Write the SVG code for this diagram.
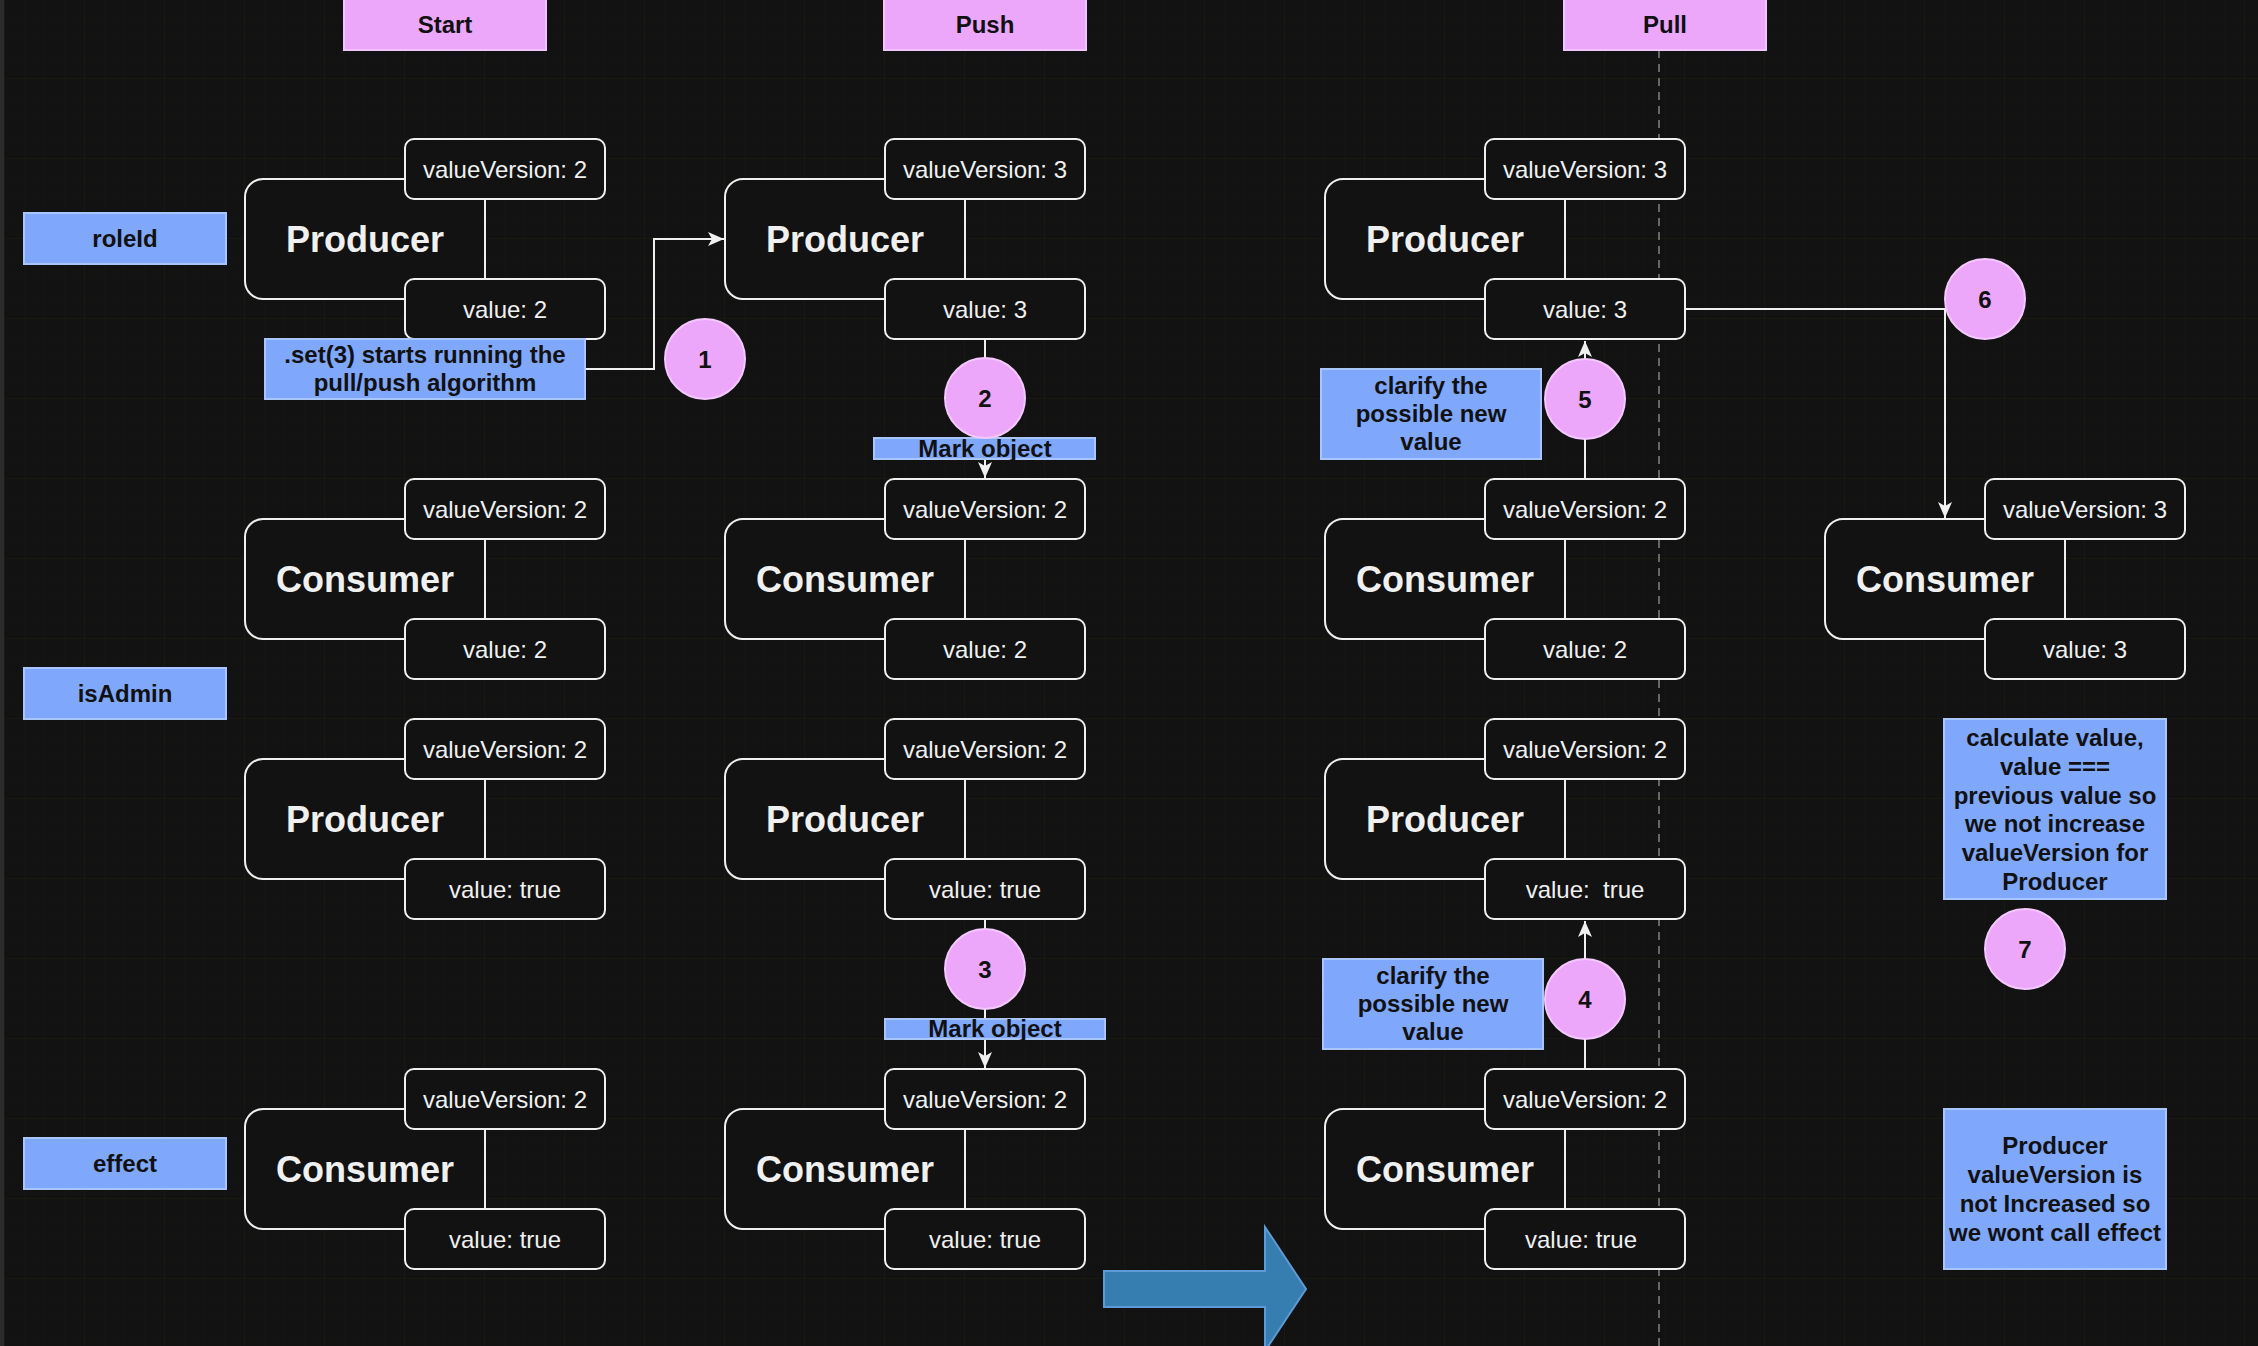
<svg xmlns="http://www.w3.org/2000/svg" width="2258" height="1346" viewBox="0 0 2258 1346">
<defs>
<pattern id="gridMinor" patternUnits="userSpaceOnUse" x="4" y="-2" width="20" height="20">
<path d="M0,0 H20 M0,0 V20" stroke="#151510" stroke-width="1" fill="none"/>
</pattern>
<pattern id="gridMajor" patternUnits="userSpaceOnUse" x="4" y="-2" width="80" height="80">
<path d="M0,0 H80 M0,0 V80" stroke="#191a10" stroke-width="1.5" fill="none"/>
</pattern>
<marker id="arrow" markerUnits="userSpaceOnUse" viewBox="0 0 16 14" refX="16" refY="7" markerWidth="16" markerHeight="14" orient="auto">
<path d="M0,0 L16,7 L0,14 L4,7 Z" fill="#f0f0f0"/>
</marker>
<style>
.main{fill:#121212;stroke:#f0f0f0;stroke-width:2}
.small{fill:#121212;stroke:#f0f0f0;stroke-width:2}
.big{font-family:"Liberation Sans",Arial,Helvetica,sans-serif;font-size:36px;font-weight:bold;fill:#f0f0f0;text-anchor:middle}
.val{font-family:"Liberation Sans",Arial,Helvetica,sans-serif;font-size:24px;fill:#f0f0f0;text-anchor:middle}
.note{fill:#7fa7fb;stroke:#a9c5ff;stroke-width:2}
.head{fill:#eca7fb;stroke:#f2c4ff;stroke-width:2}
.lbl{font-family:"Liberation Sans",Arial,Helvetica,sans-serif;font-size:24px;font-weight:bold;fill:#111111;text-anchor:middle}
.step{fill:#eca7fb;stroke:#f4c8ff;stroke-width:2}
.conn{fill:none;stroke:#f0f0f0;stroke-width:2}
</style>
</defs>
<rect x="0" y="0" width="2258" height="1346" fill="#121212"/>
<rect x="0" y="0" width="2258" height="1346" fill="url(#gridMinor)"/>
<rect x="0" y="0" width="2258" height="1346" fill="url(#gridMajor)"/>
<rect x="0" y="0" width="4" height="1346" fill="#2c2c2c"/>
<line x1="1659" y1="50" x2="1659" y2="1346" stroke="#666666" stroke-width="2" stroke-dasharray="8 6"/>

<g id="heads">
<g id="head-start"><rect class="head" x="344" y="-2" width="202" height="52"/><text class="lbl" x="445" y="33">Start</text></g>
<g id="head-push"><rect class="head" x="884" y="-2" width="202" height="52"/><text class="lbl" x="985" y="33">Push</text></g>
<g id="head-pull"><rect class="head" x="1564" y="-2" width="202" height="52"/><text class="lbl" x="1665" y="33">Pull</text></g>
</g>

<g id="row-labels">
<g id="label-roleid"><rect class="note" x="24" y="213" width="202" height="51"/><text class="lbl" x="125" y="247">roleId</text></g>
<g id="label-isadmin"><rect class="note" x="24" y="668" width="202" height="51"/><text class="lbl" x="125" y="702">isAdmin</text></g>
<g id="label-effect"><rect class="note" x="24" y="1138" width="202" height="51"/><text class="lbl" x="125" y="1172">effect</text></g>
</g>

<g id="connectors">
<path id="c-set" class="conn" d="M585,369 H654 V239 H724" marker-end="url(#arrow)"/>
<path id="c-push-roleid" class="conn" d="M985,339 V478" marker-end="url(#arrow)"/>
<path id="c-push-isadmin" class="conn" d="M985,919 V1068" marker-end="url(#arrow)"/>
<path id="c-pull-roleid" class="conn" d="M1585,479 V341" marker-end="url(#arrow)"/>
<path id="c-pull-isadmin" class="conn" d="M1585,1069 V921" marker-end="url(#arrow)"/>
<path id="c-pull-consumer" class="conn" d="M1685,309 H1945 V518" marker-end="url(#arrow)"/>
</g>

<!-- Start column -->
<g id="start-producer-roleid">
<rect class="main" x="245" y="179" width="240" height="120" rx="18"/>
<rect class="small" x="405" y="139" width="200" height="60" rx="9"/>
<rect class="small" x="405" y="279" width="200" height="60" rx="9"/>
<text class="big" x="365" y="252">Producer</text>
<text class="val" x="505" y="178">valueVersion: 2</text>
<text class="val" x="505" y="318">value: 2</text>
</g>
<g id="start-consumer-1">
<rect class="main" x="245" y="519" width="240" height="120" rx="18"/>
<rect class="small" x="405" y="479" width="200" height="60" rx="9"/>
<rect class="small" x="405" y="619" width="200" height="60" rx="9"/>
<text class="big" x="365" y="592">Consumer</text>
<text class="val" x="505" y="518">valueVersion: 2</text>
<text class="val" x="505" y="658">value: 2</text>
</g>
<g id="start-producer-isadmin">
<rect class="main" x="245" y="759" width="240" height="120" rx="18"/>
<rect class="small" x="405" y="719" width="200" height="60" rx="9"/>
<rect class="small" x="405" y="859" width="200" height="60" rx="9"/>
<text class="big" x="365" y="832">Producer</text>
<text class="val" x="505" y="758">valueVersion: 2</text>
<text class="val" x="505" y="898">value: true</text>
</g>
<g id="start-consumer-effect">
<rect class="main" x="245" y="1109" width="240" height="120" rx="18"/>
<rect class="small" x="405" y="1069" width="200" height="60" rx="9"/>
<rect class="small" x="405" y="1209" width="200" height="60" rx="9"/>
<text class="big" x="365" y="1182">Consumer</text>
<text class="val" x="505" y="1108">valueVersion: 2</text>
<text class="val" x="505" y="1248">value: true</text>
</g>

<!-- Push column -->
<g id="push-producer-roleid">
<rect class="main" x="725" y="179" width="240" height="120" rx="18"/>
<rect class="small" x="885" y="139" width="200" height="60" rx="9"/>
<rect class="small" x="885" y="279" width="200" height="60" rx="9"/>
<text class="big" x="845" y="252">Producer</text>
<text class="val" x="985" y="178">valueVersion: 3</text>
<text class="val" x="985" y="318">value: 3</text>
</g>
<g id="push-consumer-1">
<rect class="main" x="725" y="519" width="240" height="120" rx="18"/>
<rect class="small" x="885" y="479" width="200" height="60" rx="9"/>
<rect class="small" x="885" y="619" width="200" height="60" rx="9"/>
<text class="big" x="845" y="592">Consumer</text>
<text class="val" x="985" y="518">valueVersion: 2</text>
<text class="val" x="985" y="658">value: 2</text>
</g>
<g id="push-producer-isadmin">
<rect class="main" x="725" y="759" width="240" height="120" rx="18"/>
<rect class="small" x="885" y="719" width="200" height="60" rx="9"/>
<rect class="small" x="885" y="859" width="200" height="60" rx="9"/>
<text class="big" x="845" y="832">Producer</text>
<text class="val" x="985" y="758">valueVersion: 2</text>
<text class="val" x="985" y="898">value: true</text>
</g>
<g id="push-consumer-effect">
<rect class="main" x="725" y="1109" width="240" height="120" rx="18"/>
<rect class="small" x="885" y="1069" width="200" height="60" rx="9"/>
<rect class="small" x="885" y="1209" width="200" height="60" rx="9"/>
<text class="big" x="845" y="1182">Consumer</text>
<text class="val" x="985" y="1108">valueVersion: 2</text>
<text class="val" x="985" y="1248">value: true</text>
</g>

<!-- Pull column -->
<g id="pull-producer-roleid">
<rect class="main" x="1325" y="179" width="240" height="120" rx="18"/>
<rect class="small" x="1485" y="139" width="200" height="60" rx="9"/>
<rect class="small" x="1485" y="279" width="200" height="60" rx="9"/>
<text class="big" x="1445" y="252">Producer</text>
<text class="val" x="1585" y="178">valueVersion: 3</text>
<text class="val" x="1585" y="318">value: 3</text>
</g>
<g id="pull-consumer-1">
<rect class="main" x="1325" y="519" width="240" height="120" rx="18"/>
<rect class="small" x="1485" y="479" width="200" height="60" rx="9"/>
<rect class="small" x="1485" y="619" width="200" height="60" rx="9"/>
<text class="big" x="1445" y="592">Consumer</text>
<text class="val" x="1585" y="518">valueVersion: 2</text>
<text class="val" x="1585" y="658">value: 2</text>
</g>
<g id="pull-producer-isadmin">
<rect class="main" x="1325" y="759" width="240" height="120" rx="18"/>
<rect class="small" x="1485" y="719" width="200" height="60" rx="9"/>
<rect class="small" x="1485" y="859" width="200" height="60" rx="9"/>
<text class="big" x="1445" y="832">Producer</text>
<text class="val" x="1585" y="758">valueVersion: 2</text>
<text class="val" x="1585" y="898" xml:space="preserve">value:  true</text>
</g>
<g id="pull-consumer-effect">
<rect class="main" x="1325" y="1109" width="240" height="120" rx="18"/>
<rect class="small" x="1485" y="1069" width="200" height="60" rx="9"/>
<rect class="small" x="1485" y="1209" width="200" height="60" rx="9"/>
<text class="big" x="1445" y="1182">Consumer</text>
<text class="val" x="1585" y="1108">valueVersion: 2</text>
<text class="val" x="1581" y="1248">value: true</text>
</g>

<!-- Right column -->
<g id="pull-consumer-updated">
<rect class="main" x="1825" y="519" width="240" height="120" rx="18"/>
<rect class="small" x="1985" y="479" width="200" height="60" rx="9"/>
<rect class="small" x="1985" y="619" width="200" height="60" rx="9"/>
<text class="big" x="1945" y="592">Consumer</text>
<text class="val" x="2085" y="518">valueVersion: 3</text>
<text class="val" x="2085" y="658">value: 3</text>
</g>

<!-- Notes -->
<g id="note-set">
<rect class="note" x="265" y="339" width="320" height="60"/>
<text class="lbl" x="425" y="363">.set(3) starts running the</text>
<text class="lbl" x="425" y="391">pull/push algorithm</text>
</g>
<g id="note-mark-1">
<rect class="note" x="874" y="438" width="221" height="21"/>
<text class="lbl" x="985" y="457">Mark object</text>
</g>
<g id="note-mark-2">
<rect class="note" x="885" y="1019" width="220" height="20"/>
<text class="lbl" x="995" y="1037">Mark object</text>
</g>
<g id="note-clarify-5">
<rect class="note" x="1321" y="369" width="220" height="90"/>
<text class="lbl" x="1431" y="394">clarify the</text>
<text class="lbl" x="1431" y="422">possible new</text>
<text class="lbl" x="1431" y="450">value</text>
</g>
<g id="note-clarify-4">
<rect class="note" x="1323" y="959" width="220" height="90"/>
<text class="lbl" x="1433" y="984">clarify the</text>
<text class="lbl" x="1433" y="1012">possible new</text>
<text class="lbl" x="1433" y="1040">value</text>
</g>
<g id="note-calculate">
<rect class="note" x="1944" y="719" width="222" height="180"/>
<text class="lbl" x="2055" y="746">calculate value,</text>
<text class="lbl" x="2055" y="775">value ===</text>
<text class="lbl" x="2055" y="804">previous value so</text>
<text class="lbl" x="2055" y="832">we not increase</text>
<text class="lbl" x="2055" y="861">valueVersion for</text>
<text class="lbl" x="2055" y="890">Producer</text>
</g>
<g id="note-effect">
<rect class="note" x="1944" y="1109" width="222" height="160"/>
<text class="lbl" x="2055" y="1154">Producer</text>
<text class="lbl" x="2055" y="1183">valueVersion is</text>
<text class="lbl" x="2055" y="1212">not Increased so</text>
<text class="lbl" x="2055" y="1241">we wont call effect</text>
</g>

<!-- Steps -->
<g id="step-1"><circle class="step" cx="705" cy="359" r="40"/><text class="lbl" x="705" y="368">1</text></g>
<g id="step-2"><circle class="step" cx="985" cy="398" r="40"/><text class="lbl" x="985" y="407">2</text></g>
<g id="step-3"><circle class="step" cx="985" cy="969" r="40"/><text class="lbl" x="985" y="978">3</text></g>
<g id="step-4"><circle class="step" cx="1585" cy="999" r="40"/><text class="lbl" x="1585" y="1008">4</text></g>
<g id="step-5"><circle class="step" cx="1585" cy="399" r="40"/><text class="lbl" x="1585" y="408">5</text></g>
<g id="step-6"><circle class="step" cx="1985" cy="299" r="40"/><text class="lbl" x="1985" y="308">6</text></g>
<g id="step-7"><circle class="step" cx="2025" cy="949" r="40"/><text class="lbl" x="2025" y="958">7</text></g>

<g id="big-arrow">
<polygon points="1104,1271 1265,1271 1265,1227 1306,1289 1265,1351 1265,1307 1104,1307" fill="#367db0" stroke="#5d9ad6" stroke-width="2"/>
</g>
</svg>
